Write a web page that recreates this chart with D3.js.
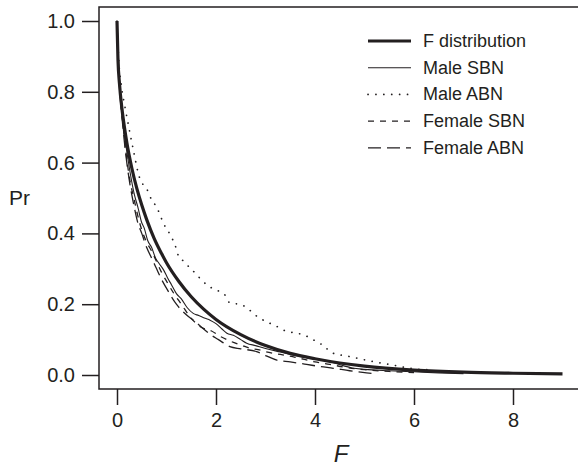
<html>
<head>
<style>
body { margin: 0; background: #fff; }
text { font-family: "Liberation Sans", Arial, sans-serif; fill: #231f20; }
</style>
<script src="https://d3js.org/d3.v7.min.js"></script>
</head>
<body>
<div id="viz"></div>
<script>
var width = 578, height = 467;

// F distribution (reference curve)
var fDistX = [0, 0.02, 0.05, 0.1, 0.15, 0.2, 0.3, 0.4, 0.5, 0.6, 0.75, 0.9, 1.0, 1.25, 1.5, 1.75, 2.0, 2.5, 3.0, 3.5, 4.0, 4.5, 5.0, 6.0, 7.0, 8.0, 9.0];
var fDistY = [1.0, 0.89, 0.823, 0.752, 0.70, 0.655, 0.584, 0.527, 0.48, 0.439, 0.386, 0.343, 0.317, 0.264, 0.221, 0.186, 0.157, 0.114, 0.083, 0.061, 0.046, 0.034, 0.025, 0.014, 0.008, 0.005, 0.003];

// Male SBN
var maleSbnX = [0, 0.04, 0.08, 0.12, 0.2, 0.28, 0.35, 0.42, 0.5, 0.55, 0.62, 0.7, 0.78, 0.85, 0.94, 1.02, 1.1, 1.2, 1.3, 1.42, 1.54, 1.65, 1.78, 1.88, 2.0, 2.12, 2.22, 2.35, 2.5, 2.62, 2.8, 3.0, 3.3, 3.6, 4.0, 4.3, 4.6, 4.75, 5.0, 5.5, 6.0, 6.5, 7.0];
var maleSbnY = [1.0, 0.86, 0.77, 0.71, 0.63, 0.56, 0.51, 0.475, 0.43, 0.415, 0.38, 0.36, 0.33, 0.315, 0.297, 0.275, 0.255, 0.23, 0.215, 0.19, 0.174, 0.168, 0.16, 0.155, 0.145, 0.13, 0.118, 0.112, 0.1, 0.09, 0.083, 0.075, 0.065, 0.055, 0.045, 0.038, 0.025, 0.02, 0.016, 0.012, 0.009, 0.006, 0.004];

// Male ABN
var maleAbnX = [0, 0.04, 0.09, 0.16, 0.23, 0.33, 0.45, 0.53, 0.63, 0.7, 0.8, 0.87, 0.94, 1.04, 1.12, 1.19, 1.24, 1.34, 1.47, 1.6, 1.71, 1.85, 2.01, 2.18, 2.27, 2.45, 2.62, 2.75, 2.89, 3.06, 3.23, 3.36, 3.55, 3.73, 3.9, 4.03, 4.2, 4.3, 4.5, 4.7, 5.17, 5.58, 5.92, 6.1, 6.3];
var maleAbnY = [1.0, 0.88, 0.815, 0.758, 0.706, 0.636, 0.56, 0.537, 0.518, 0.494, 0.475, 0.452, 0.428, 0.405, 0.384, 0.36, 0.337, 0.322, 0.303, 0.285, 0.268, 0.251, 0.24, 0.226, 0.205, 0.2, 0.191, 0.174, 0.16, 0.148, 0.137, 0.127, 0.12, 0.115, 0.105, 0.094, 0.08, 0.066, 0.057, 0.052, 0.038, 0.028, 0.019, 0.016, 0.015];

// Female SBN
var femaleSbnX = [0, 0.04, 0.1, 0.18, 0.26, 0.34, 0.42, 0.5, 0.6, 0.7, 0.8, 0.9, 1.0, 1.15, 1.3, 1.5, 1.7, 1.9, 2.1, 2.3, 2.5, 2.7, 2.85, 3.0, 3.3, 3.6, 4.0, 4.3, 4.6, 5.0, 5.5, 6.0];
var femaleSbnY = [1.0, 0.85, 0.74, 0.63, 0.55, 0.5, 0.45, 0.41, 0.375, 0.35, 0.32, 0.29, 0.265, 0.23, 0.2, 0.16, 0.135, 0.125, 0.108, 0.095, 0.085, 0.075, 0.072, 0.066, 0.058, 0.05, 0.037, 0.03, 0.022, 0.015, 0.01, 0.007];

// Female ABN
var femaleAbnX = [0, 0.04, 0.1, 0.18, 0.26, 0.34, 0.42, 0.5, 0.6, 0.7, 0.8, 0.9, 1.0, 1.2, 1.4, 1.58, 1.75, 1.88, 2.05, 2.28, 2.5, 2.82, 3.0, 3.23, 3.5, 3.83, 4.1, 4.37, 4.7, 5.04, 5.2];
var femaleAbnY = [1.0, 0.84, 0.73, 0.62, 0.54, 0.48, 0.43, 0.4, 0.36, 0.33, 0.3, 0.27, 0.245, 0.2, 0.17, 0.151, 0.13, 0.115, 0.1, 0.08, 0.074, 0.066, 0.055, 0.042, 0.037, 0.03, 0.024, 0.019, 0.012, 0.006, 0.004];

var xTicks = [0, 2, 4, 6, 8];
var yTicks = [0, 0.2, 0.4, 0.6, 0.8, 1.0];
var legendNames = ["F distribution", "Male SBN", "Male ABN", "Female SBN", "Female ABN"];

function zip(xs, ys) { return xs.map(function(d, i) { return [d, ys[i]]; }); }

var series = [
  {name: legendNames[0], pts: zip(fDistX, fDistY), w: 3.2, dash: null},
  {name: legendNames[1], pts: zip(maleSbnX, maleSbnY), w: 1.1, dash: null},
  {name: legendNames[2], pts: zip(maleAbnX, maleAbnY), w: 1.7, dash: "0.1,7.8"},
  {name: legendNames[3], pts: zip(femaleSbnX, femaleSbnY), w: 1.3, dash: "6,6"},
  {name: legendNames[4], pts: zip(femaleAbnX, femaleAbnY), w: 1.3, dash: "13,6"}
];

var ink = "#231f20";

var x = d3.scaleLinear().domain([0, 8]).range([117, 513]);
var y = d3.scaleLinear().domain([0, 1]).range([375, 21]);

var plotLeft = 99, plotTop = 7, plotBottom = 389, plotRight = width;

var svg = d3.select("#viz").append("svg")
    .attr("width", width)
    .attr("height", height);

// curves (thick reference curve drawn last so it sits on top)
var line = d3.line()
    .x(function(d) { return x(d[0]); })
    .y(function(d) { return y(d[1]); })
    .curve(d3.curveMonotoneX);

var order = [1, 3, 4, 2, 0];
order.forEach(function(k) {
  var s = series[k];
  svg.append("path")
    .datum(s.pts)
    .attr("d", line)
    .attr("fill", "none")
    .attr("stroke", ink)
    .attr("stroke-width", s.w)
    .attr("stroke-linecap", k == 2 ? "round" : "butt")
    .attr("stroke-dasharray", s.dash);
});

// frame (left, top, bottom; right side runs off the picture)
svg.append("path")
    .attr("d", "M" + plotRight + "," + plotTop + "H" + plotLeft + "V" + plotBottom + "H" + plotRight)
    .attr("fill", "none")
    .attr("stroke", ink)
    .attr("stroke-width", 1.5);

// y axis
var yAxis = svg.append("g")
    .attr("transform", "translate(" + plotLeft + ",0)")
    .call(d3.axisLeft(y).tickValues(yTicks).tickSize(17).tickPadding(7).tickFormat(d3.format(".1f")));
yAxis.select(".domain").remove();
yAxis.selectAll("line").attr("stroke", ink).attr("stroke-width", 1.5);
yAxis.selectAll("text").attr("font-size", 20).attr("fill", ink)
    .style("font-family", "'Liberation Sans', Arial, sans-serif");

// x axis
var xAxis = svg.append("g")
    .attr("transform", "translate(0," + plotBottom + ")")
    .call(d3.axisBottom(x).tickValues(xTicks).tickSize(16).tickPadding(8).tickFormat(d3.format("d")));
xAxis.select(".domain").remove();
xAxis.selectAll("line").attr("stroke", ink).attr("stroke-width", 1.5);
xAxis.selectAll("text").attr("font-size", 20).attr("fill", ink)
    .style("font-family", "'Liberation Sans', Arial, sans-serif");

// axis titles
svg.append("text")
    .attr("x", 9)
    .attr("y", 205)
    .attr("font-size", 21)
    .text("Pr");

svg.append("text")
    .attr("x", 341)
    .attr("y", 462)
    .attr("text-anchor", "middle")
    .attr("font-size", 24)
    .attr("font-style", "italic")
    .text("F");

// legend
var legend = svg.append("g");
series.forEach(function(s, i) {
  var by = 47 + i * 26.7;
  legend.append("line")
    .attr("x1", 368).attr("x2", 411)
    .attr("y1", by - 6).attr("y2", by - 6)
    .attr("stroke", ink)
    .attr("stroke-width", s.w)
    .attr("stroke-linecap", i == 2 ? "round" : "butt")
    .attr("stroke-dasharray", s.dash);
  legend.append("text")
    .attr("x", 423)
    .attr("y", by)
    .attr("font-size", 18)
    .text(s.name);
});
</script>
</body>
</html>
